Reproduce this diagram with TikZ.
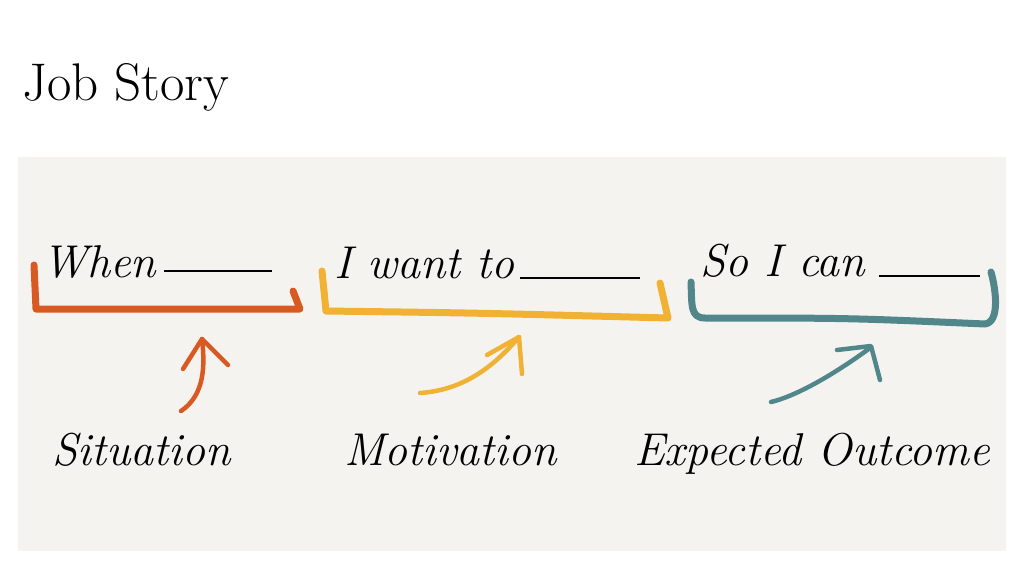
\documentclass[tikz,border=0pt]{standalone}
\usepackage{fontspec}
\usepackage{tikz}
\usetikzlibrary{positioning, calc}
\usepackage{xcolor}
\definecolor{panelgray}{HTML}{F4F3F0}
\definecolor{sitorange}{HTML}{D85A22}
\definecolor{motyellow}{HTML}{F1B133}
\definecolor{outteal}{HTML}{51868A}

\begin{document}
\begin{tikzpicture}[
    x=1pt, y=-1pt,
    title/.style={anchor=base west, inner sep=0pt, font=\fontsize{53}{60}\selectfont},
    hand/.style={anchor=base west, inner sep=0pt, font=\fontsize{46}{52}\selectfont\itshape},
    blank/.style={draw=black, line width=1.6pt},
    bracket/.style={line width=7pt, line cap=round, line join=round},
    stroke/.style={line width=4.5pt, line cap=round, line join=round}
]
    \useasboundingbox (0,0) rectangle (1024,576);
    \fill[panelgray] (18,157) rectangle (1006,551);

    % Title
    \node[title] (ttl) at (22,100) {Job Story};

    % Sentence parts
    \node[hand] (when) at (42,277) {When};
    \node[hand] (want) at (334,278) {I want to};
    \node[hand] (can) at (700,276) {So I can};
    \draw[blank] ($(when.base east)+(8,-6)$) -- (272,271);
    \draw[blank] ([xshift=5pt]want.base east) -- (640,278);
    \draw[blank] ([xshift=14pt]can.base east) -- (980,276);

    % Labels
    \node[hand] (sit) at (52,465) {Situation};
    \node[hand] (mot) at (344,465) {Motivation};
    \node[hand] (out) at (634,465) {Expected Outcome};

    % Brackets
    \draw[bracket, sitorange] (34,265) -- (36,309) -- (300,309) -- (293,291);
    \draw[bracket, motyellow] (322,271) -- (326,311) .. controls (480,313) .. (668,318) -- (660,283);
    \draw[bracket, outteal] (691,282) .. controls (692,305) and (690,318) .. (705,318)
        .. controls (850,318) .. (985,324) .. controls (1000,322) and (996,290) .. (991,272);

    % Arrows
    \draw[stroke, sitorange] (181,411) .. controls (205,395) and (205,365) .. (202,339);
    \draw[stroke, sitorange] (183,369) -- (202,339) -- (228,365);
    \draw[stroke, motyellow] (420,393) .. controls (465,390) and (495,365) .. (519,337);
    \draw[stroke, motyellow] (487,355) -- (519,337) -- (522,374);
    \draw[stroke, outteal] (771,402) .. controls (800,395) and (840,370) .. (870,348);
    \draw[stroke, outteal] (837,350) -- (871,346) -- (880,380);
\end{tikzpicture}
\end{document}
